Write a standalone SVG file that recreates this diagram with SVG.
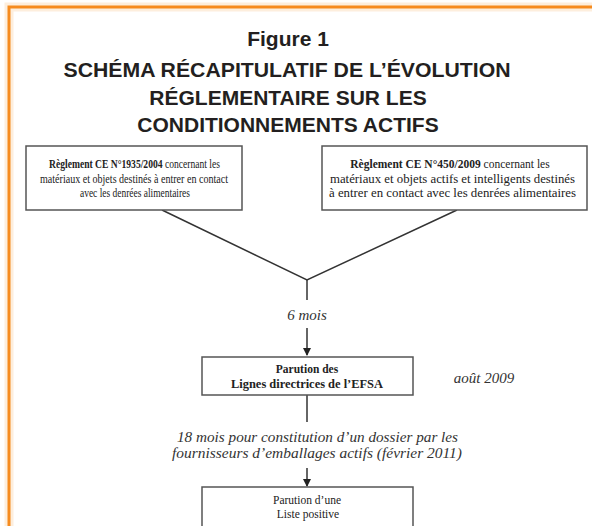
<svg xmlns="http://www.w3.org/2000/svg" width="592" height="526" viewBox="0 0 592 526">
<style>
.frame{fill:none;stroke:#f68b1f;stroke-width:3}
.glow{fill:none;stroke:#fdeedd;stroke-width:9}
.title{font-family:"Liberation Sans",Arial,sans-serif;font-weight:bold;font-size:21px;fill:#231f20;text-anchor:middle}
.box{fill:#fff;stroke:#555;stroke-width:1.5}
.t{font-family:"Liberation Serif","Times New Roman",serif;font-size:11.5px;fill:#222;text-anchor:middle}
.b{font-weight:bold}
.n{font-weight:normal}
.it{font-family:"Liberation Serif","Times New Roman",serif;font-style:italic;font-size:15px;fill:#333;text-anchor:middle}
.ln{fill:none;stroke:#333;stroke-width:1.5}
</style>
<defs>
<marker id="ah" markerWidth="8" markerHeight="8" refX="7" refY="4" orient="auto" markerUnits="userSpaceOnUse">
<path d="M0,0 L8,4 L0,8 z" fill="#222"/>
</marker>
</defs>
<rect width="592" height="526" fill="#fff"/>
<g id="frame">
<path class="glow" d="M9,526 V7 H592"/>
<path class="frame" d="M9,526 V7 H592"/>
</g>
<g id="title">
<text class="title" x="288" y="46">Figure 1</text>
<text class="title" x="287" y="77" textLength="447" lengthAdjust="spacingAndGlyphs">SCHÉMA RÉCAPITULATIF DE L’ÉVOLUTION</text>
<text class="title" x="288" y="105">RÉGLEMENTAIRE SUR LES</text>
<text class="title" x="288" y="132">CONDITIONNEMENTS ACTIFS</text>
</g>
<g id="connectors">
<path class="ln" d="M162,210 L307,280 L457,210"/>
<path class="ln" d="M307,280 V300"/>
<path class="ln" d="M307,328 V355" marker-end="url(#ah)"/>
<path class="ln" d="M307,395 V422"/>
<path class="ln" d="M307,468 V486" marker-end="url(#ah)"/>
</g>
<g id="reg1935">
<rect class="box" x="26" y="146" width="216" height="64"/>
<text class="t b" transform="translate(134.5,168) scale(0.834,1)">Règlement CE N°1935/2004<tspan class="n"> concernant les</tspan></text>
<text class="t" x="134" y="183" textLength="188" lengthAdjust="spacingAndGlyphs">matériaux et objets destinés à entrer en contact</text>
<text class="t" x="135" y="197" textLength="110" lengthAdjust="spacingAndGlyphs">avec les denrées alimentaires</text>
</g>
<g id="reg450">
<rect class="box" x="322" y="146" width="265" height="64"/>
<text class="t b" x="450" y="168" font-size="12">Règlement CE N°450/2009<tspan class="n"> concernant les</tspan></text>
<text class="t" x="452.5" y="183" textLength="245" lengthAdjust="spacingAndGlyphs">matériaux et objets actifs et intelligents destinés</text>
<text class="t" x="452.5" y="197" textLength="247" lengthAdjust="spacingAndGlyphs">à entrer en contact avec les denrées alimentaires</text>
</g>
<g id="label6mois">
<text class="it" x="307" y="320">6 mois</text>
</g>
<g id="efsa">
<rect class="box" x="202" y="357" width="211" height="38"/>
<text class="t b" x="307" y="373" font-size="13.5">Parution des</text>
<text class="t b" x="307" y="388" font-size="13.5" textLength="152" lengthAdjust="spacingAndGlyphs">Lignes directrices de l’EFSA</text>
</g>
<g id="aout">
<text class="it" x="484" y="383" font-size="14">août 2009</text>
</g>
<g id="label18mois">
<text class="it" x="317.5" y="442" textLength="281" lengthAdjust="spacingAndGlyphs">18 mois pour constitution d’un dossier par les</text>
<text class="it" x="317" y="458" textLength="290" lengthAdjust="spacingAndGlyphs">fournisseurs d’emballages actifs (février 2011)</text>
</g>
<g id="liste">
<rect class="box" x="202" y="487" width="211" height="50"/>
<text class="t" x="307" y="504" font-size="13.5">Parution d’une</text>
<text class="t" x="308" y="518" font-size="13.5">Liste positive</text>
</g>
</svg>
